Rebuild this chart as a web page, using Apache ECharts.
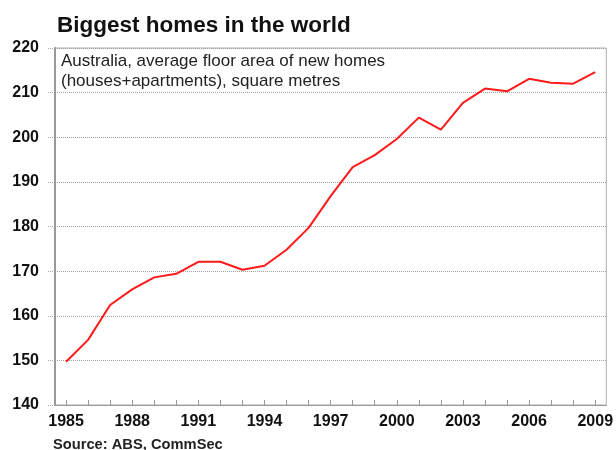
<!DOCTYPE html>
<html>
<head>
<meta charset="utf-8">
<script src="https://cdn.jsdelivr.net/npm/echarts@6/dist/echarts.min.js"></script>
<style>html,body{margin:0;padding:0;background:#fff}#c{width:616px;height:450px}</style>
</head>
<body>
<div id="c"></div>
<script>
var years = ['1985','1986','1987','1988','1989','1990','1991','1992','1993','1994','1995','1996','1997','1998','1999','2000','2001','2002','2003','2004','2005','2006','2007','2008','2009'];
var floorArea = [149.7,154.6,162.4,165.9,168.6,169.4,172.1,172.1,170.3,171.2,174.8,179.7,186.8,193.3,196.0,199.6,204.4,201.7,207.7,210.9,210.3,213.1,212.2,212.0,214.6];
var yTicks = {min: 140, max: 220, step: 10};

var chart = echarts.init(document.getElementById('c'), null, {renderer: 'canvas'});
chart.setOption({
  animation: false,
  backgroundColor: '#fff',
  title: [
    {text: 'Biggest homes in the world', left: 57, top: 14, padding: 0,
     textStyle: {fontFamily: 'Liberation Sans, Arial, sans-serif', fontWeight: 'bold', fontSize: 22.5, color: '#111'}},
    {text: 'Australia, average floor area of new homes\n(houses+apartments), square metres', left: 61, top: 51, padding: 0,
     textStyle: {fontFamily: 'Liberation Sans, Arial, sans-serif', fontWeight: 'normal', fontSize: 17, lineHeight: 20, color: '#222'}},
    {text: 'Source: ABS, CommSec', left: 53, top: 437, padding: 0,
     textStyle: {fontFamily: 'Liberation Sans, Arial, sans-serif', fontWeight: 'bold', fontSize: 14.7, color: '#222'}}
  ],
  grid: {left: 55, right: 8, top: 48, bottom: 45, show: true, borderColor: '#b0b0b0', borderWidth: 1, backgroundColor: 'transparent'},
  xAxis: {
    type: 'category', data: years, boundaryGap: true,
    axisLine: {lineStyle: {color: '#999', width: 1}},
    axisTick: {show: true, inside: true, length: 5, alignWithLabel: true, interval: 0, lineStyle: {color: '#999'}},
    axisLabel: {interval: 2, margin: 9, fontFamily: 'Liberation Sans, Arial, sans-serif', fontWeight: 'bold', fontSize: 16, color: '#111'},
    splitLine: {show: false}
  },
  yAxis: {
    type: 'value', min: yTicks.min, max: yTicks.max, interval: yTicks.step,
    axisLine: {show: true, lineStyle: {color: '#999', width: 2}},
    axisTick: {show: true, length: 7, lineStyle: {color: '#aaa', type: [1, 1]}},
    axisLabel: {margin: 16, fontFamily: 'Liberation Sans, Arial, sans-serif', fontWeight: 'bold', fontSize: 16, color: '#111'},
    splitLine: {show: true, lineStyle: {color: '#a0a0a0', type: [1, 1], width: 1}}
  },
  series: [{
    type: 'line', data: floorArea, symbol: 'none', smooth: false,
    lineStyle: {color: '#ff1a1a', width: 2}
  }]
});
</script>
</body>
</html>
